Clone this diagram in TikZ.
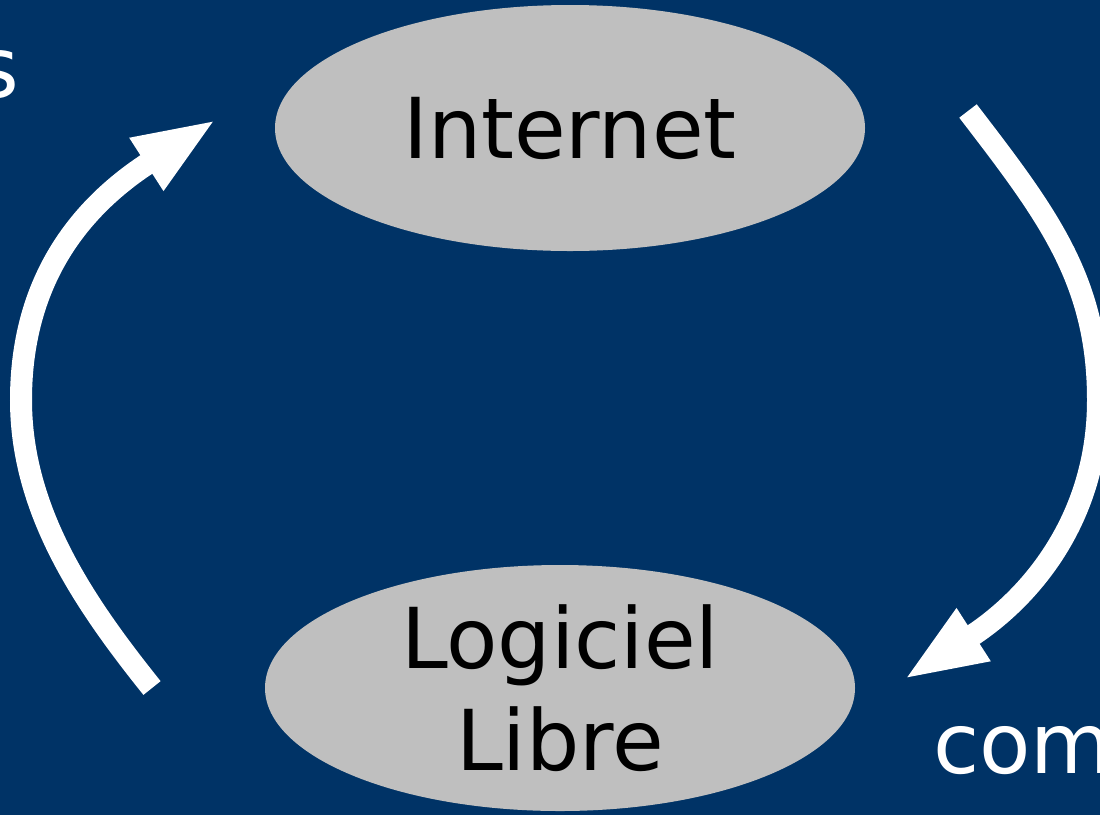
\documentclass[tikz,border=0pt]{standalone}
\usepackage{fontspec}
\setmainfont{DejaVu Sans}
\usetikzlibrary{shapes.geometric,arrows.meta}
\definecolor{bgblue}{HTML}{003366}
\definecolor{ellgray}{HTML}{BFBFBF}
\tikzset{
  blob/.style={ellipse, fill=ellgray, draw=none, minimum width=590pt, minimum height=246pt, inner sep=0pt},
  bigtext/.style={font=\fontsize{84}{102}\selectfont, inner sep=0pt, align=center},
  whitetext/.style={font=\fontsize{84}{102}\selectfont, inner sep=0pt, text=white},
  cyclearrow/.style={draw=white, line width=22pt, -{Triangle[length=84pt,width=56pt]}}
}
\begin{document}
\begin{tikzpicture}[x=1pt,y=-1pt]
\useasboundingbox (0,0) rectangle (1100,815);
\clip (0,0) rectangle (1100,815);
\fill[bgblue] (0,0) rectangle (1100,815);
% ellipses
\node[blob] (net) at (570,128) {};
\node[bigtext] (nettext) at (net.center) {Internet};
\node[blob] (ll) at (560,688) {};
\node[bigtext] (lltext) at (ll.center) {Logiciel\\Libre};
% side texts
\node[whitetext, anchor=base east] (stext) at (19,97) {s};
\node[whitetext, anchor=base west] (comtext) at (933,773) {com};
% arrow coordinates
\coordinate (lstart) at (152,688);
\coordinate (lmid) at (21,400);
\coordinate (ltip) at (217,119);
\coordinate (rstart) at (968,111);
\coordinate (rmid) at (1098,400);
\coordinate (rtip) at (903,680);
% arrows
\draw[cyclearrow] (lstart) .. controls (83,602) and (21,510) .. (lmid)
  .. controls (21,270) and (91,200) .. (ltip);
\draw[cyclearrow] (rstart) .. controls (1047,214) and (1098,280) .. (rmid)
  .. controls (1098,520) and (1029,599) .. (rtip);
\end{tikzpicture}
\end{document}
